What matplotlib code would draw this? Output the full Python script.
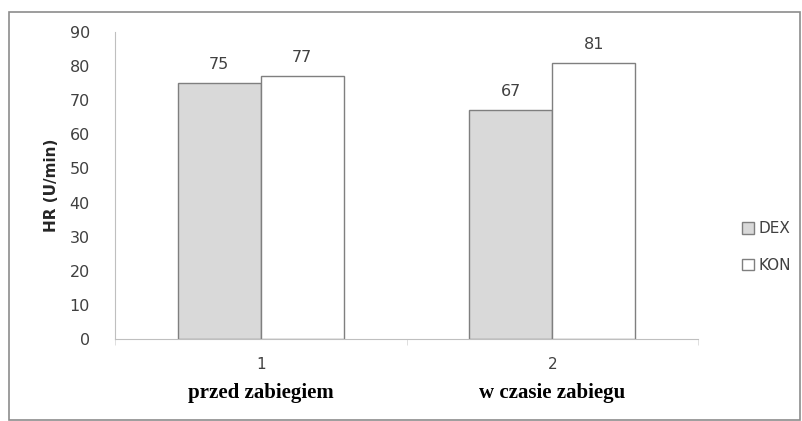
import numpy as np
import matplotlib.pyplot as plt
from matplotlib.patches import Rectangle

# Données
kategorie = ['1', '2']
opisy = ['przed zabiegiem', 'w czasie zabiegu']
dex = [75, 67]
kon = [77, 81]

fig = plt.figure(figsize=(8.02, 4.21), dpi=100)
W, H = 802, 421

# Ramka wykresu
fig.patches.append(Rectangle((9 / W, 1 / H), 791 / W, (409 - 1) / H, transform=fig.transFigure,
                             fill=False, edgecolor='#8c8c8c', linewidth=1.2))

ax = fig.add_axes([115 / W, 1 - 339 / H, (698 - 115) / W, (339 - 32) / H])

x = np.arange(len(kategorie))
szer = 0.285
b1 = ax.bar(x - szer / 2, dex, szer, color='#d9d9d9', edgecolor='#7f7f7f', linewidth=1.0, label='DEX')
b2 = ax.bar(x + szer / 2, kon, szer, color='white', edgecolor='#7f7f7f', linewidth=1.0, label='KON')

for bars in (b1, b2):
    for b in bars:
        ax.annotate(f"{b.get_height():.0f}", (b.get_x() + b.get_width() / 2, b.get_height()),
                    xytext=(0, 8), textcoords='offset points', ha='center', va='bottom',
                    fontsize=11.5, color='#404040')

ax.set_xlim(-0.5, 1.5)
ax.set_ylim(0, 90)
ax.set_yticks(np.arange(0, 91, 10))
ax.set_xticks(x)
ax.set_xticklabels(kategorie)
ax.set_xticks([-0.5, 0.5, 1.5], minor=True)
ax.tick_params(axis='x', which='major', length=0, pad=13, labelsize=11, labelcolor='#404040')
ax.tick_params(axis='x', which='minor', length=4, color='#d9d9d9')
ax.tick_params(axis='y', length=0, pad=18, labelsize=11.5, labelcolor='#404040')
for s in ['top', 'right']:
    ax.spines[s].set_visible(False)
ax.spines['left'].set_color('#bfbfbf')
ax.spines['bottom'].set_color('#bfbfbf')

ax.set_ylabel('HR (U/min)', fontsize=11, fontweight='bold', color='#262626', labelpad=8)

for xi, t in zip(x, opisy):
    ax.text(xi, -0.175, t, transform=ax.get_xaxis_transform(), ha='center', va='center',
            fontsize=15, fontweight='bold', family='Liberation Serif')

leg = fig.legend(loc='center left', bbox_to_anchor=(728 / W, 1 - 247 / H), frameon=False,
                 fontsize=11, handlelength=0.8, handleheight=0.8, handletextpad=0.3,
                 labelspacing=1.4, labelcolor='#404040')

plt.savefig('out.png', dpi=100)
